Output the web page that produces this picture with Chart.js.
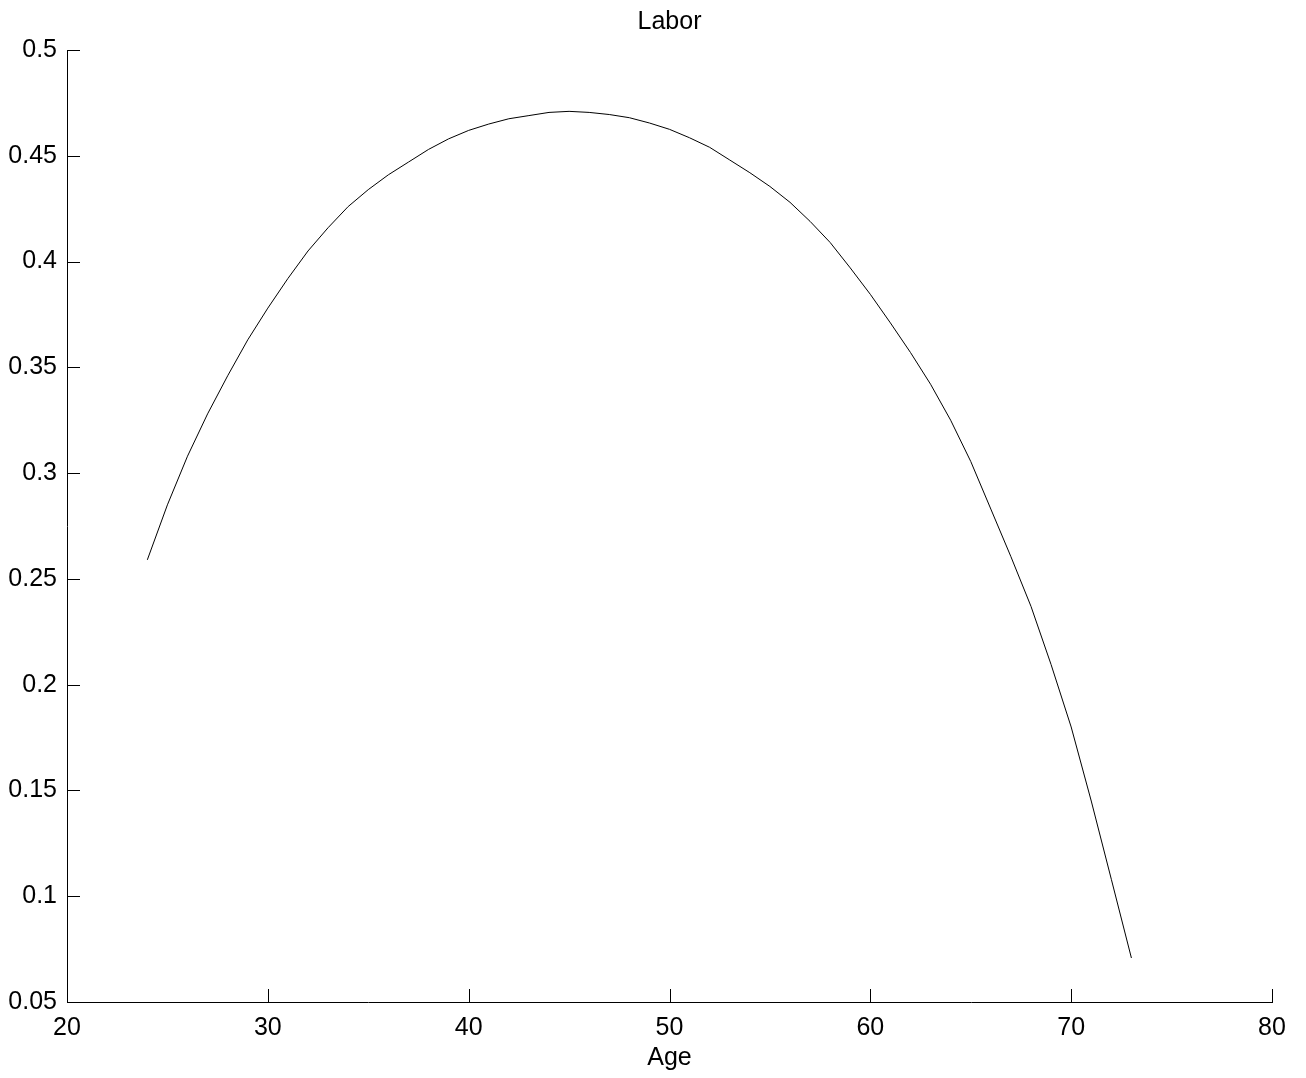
<!DOCTYPE html>
<html>
<head>
<meta charset="utf-8">
<script src="https://cdn.jsdelivr.net/npm/chart.js@4/dist/chart.umd.min.js"></script>
<style>
  html, body { margin: 0; padding: 0; background: #ffffff; }
  #wrap { width: 1306px; height: 1078px; }
</style>
</head>
<body>
<div id="wrap"><canvas id="c" width="1306" height="1078"></canvas></div>
<script>
const chartTitle = "Labor";
const xAxisTitle = "Age";

const ages = [24, 25, 26, 27, 28, 29, 30, 31, 32, 33, 34, 35, 36, 37, 38, 39, 40, 41, 42, 43, 44, 45, 46, 47, 48,
              49, 50, 51, 52, 53, 54, 55, 56, 57, 58, 59, 60, 61, 62, 63, 64, 65, 66, 67, 68, 69, 70, 71, 72, 73];
const labor = [0.259, 0.285, 0.308, 0.328, 0.346, 0.363, 0.378, 0.392, 0.405, 0.416,
               0.426, 0.434, 0.441, 0.447, 0.453, 0.458, 0.462, 0.465, 0.4675, 0.469,
               0.4705, 0.471, 0.4705, 0.4695, 0.468, 0.4655, 0.4625, 0.4585, 0.454, 0.448,
               0.442, 0.4355, 0.428, 0.419, 0.409, 0.397, 0.3845, 0.371, 0.357, 0.342,
               0.325, 0.3055, 0.283, 0.2605, 0.237, 0.2095, 0.180, 0.145, 0.108, 0.0708];

const xTicks = [20, 30, 40, 50, 60, 70, 80];
const yTicks = [0.05, 0.1, 0.15, 0.2, 0.25, 0.3, 0.35, 0.4, 0.45, 0.5];
const yTickLabels = ["0.05", "0.1", "0.15", "0.2", "0.25", "0.3", "0.35", "0.4", "0.45", "0.5"];

const FONT = "'Liberation Sans', Arial, sans-serif";

const inwardTicks = {
  id: 'inwardTicks',
  afterDraw(chart) {
    const ctx = chart.ctx;
    const xs = chart.scales.x, ys = chart.scales.y;
    const len = 13;
    ctx.save();
    ctx.strokeStyle = '#000';
    ctx.lineWidth = 1;
    ctx.beginPath();
    xs.ticks.forEach(t => {
      const px = Math.round(xs.getPixelForValue(t.value)) + 0.5;
      ctx.moveTo(px, xs.top);
      ctx.lineTo(px, xs.top - len);
    });
    ys.ticks.forEach(t => {
      const py = Math.round(ys.getPixelForValue(t.value)) + 0.5;
      ctx.moveTo(ys.right, py);
      ctx.lineTo(ys.right + len, py);
    });
    ctx.stroke();
    ctx.restore();
  }
};

new Chart(document.getElementById('c'), {
  type: 'line',
  data: {
    datasets: [{
      data: ages.map((a, i) => ({ x: a, y: labor[i] })),
      borderColor: '#000000',
      borderWidth: 1,
      pointRadius: 0,
      tension: 0,
      fill: false,
      xAxisID: 'x',
      yAxisID: 'y'
    }]
  },
  options: {
    responsive: false,
    animation: false,
    devicePixelRatio: 1,
    layout: { padding: { left: 0, right: 34, top: 0, bottom: 0 } },
    plugins: {
      legend: { display: false },
      tooltip: { enabled: false },
      title: { display: false }
    },
    scales: {
      top: {
        type: 'linear',
        position: 'top',
        min: 20, max: 80,
        afterFit: s => { s.height = 50; },
        grid: { display: false, drawTicks: false },
        border: { display: false },
        ticks: { display: false },
        title: {
          display: true, text: chartTitle, color: '#000',
          font: { family: FONT, size: 25, lineHeight: 1.2 },
          padding: { top: 7, bottom: 0 }
        }
      },
      x: {
        type: 'linear',
        position: 'bottom',
        min: 20, max: 80,
        afterBuildTicks: s => { s.ticks = xTicks.map(v => ({ value: v })); },
        afterFit: s => { s.height = 76; },
        grid: { display: true, drawOnChartArea: false, drawTicks: false },
        border: { display: true, color: '#000', width: 1 },
        ticks: {
          color: '#000', padding: 11,
          font: { family: FONT, size: 25 },
          maxRotation: 0, autoSkip: false,
          callback: v => String(v)
        },
        title: {
          display: true, text: xAxisTitle, color: '#000',
          font: { family: FONT, size: 25, lineHeight: 1.2 },
          padding: { top: 0, bottom: 5 }
        }
      },
      y: {
        type: 'linear',
        position: 'left',
        min: 0.05, max: 0.5,
        afterBuildTicks: s => { s.ticks = yTicks.map(v => ({ value: v })); },
        afterFit: s => { s.width = 67; },
        grid: { display: true, drawOnChartArea: false, drawTicks: false },
        border: { display: true, color: '#000', width: 1 },
        ticks: {
          color: '#000', padding: 10,
          font: { family: FONT, size: 25 },
          autoSkip: false,
          callback: (v, i) => yTickLabels[i]
        }
      }
    }
  },
  plugins: [inwardTicks]
});
</script>
</body>
</html>
